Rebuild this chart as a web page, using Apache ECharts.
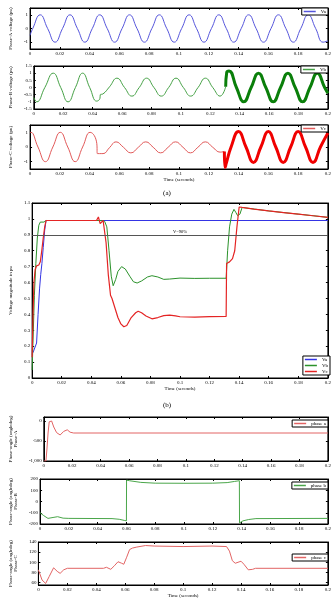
<!DOCTYPE html>
<html>
<head>
<meta charset="utf-8">
<script src="https://cdn.jsdelivr.net/npm/echarts@6/dist/echarts.min.js"></script>
<style>html,body{margin:0;padding:0;background:#fff}#main{width:334px;height:605px}</style>
</head>
<body>
<div id="main"></div>
<script>
// (a) phase voltages, [time, pu]
var va = [[0,-0.5],[0.0018,0],[0.0068,1],[0.0118,0],[0.0168,-1],[0.0218,0],[0.0268,1],[0.0318,0],[0.0368,-1],[0.0418,0],[0.0468,1],[0.0518,0],[0.0568,-1],[0.0618,0],[0.0668,1],[0.0718,0],[0.0768,-1],[0.0818,0],[0.0868,1],[0.0918,0],[0.0968,-1],[0.1018,0],[0.1068,1],[0.1118,0],[0.1168,-1],[0.1218,0],[0.1268,1],[0.1318,0],[0.1368,-1],[0.1418,0],[0.1468,1],[0.1518,0],[0.1568,-1],[0.1618,0],[0.1668,1],[0.1718,0],[0.1768,-1],[0.1818,0],[0.1868,1],[0.1918,0],[0.1968,-1],[0.2,-0.9]];
var vbLo = [[0,-0.7],[0.002,-1],[0.0075,0],[0.0132,1],[0.0183,0],[0.0233,-1],[0.0283,0],[0.0332,1],[0.038,0],[0.0428,-0.95],[0.045,-0.75],[0.0452,-0.5],[0.047,-0.45],[0.0515,0.05],[0.0565,0.65],[0.0617,0],[0.0667,-0.6],[0.0717,0],[0.0767,0.65],[0.0817,0],[0.0867,-0.6],[0.0917,0],[0.0967,0.65],[0.1017,0],[0.1067,-0.6],[0.1117,0],[0.1167,0.65],[0.1217,0],[0.1267,-0.6],[0.1305,0.05]];
var vbHi = [[0.1305,0.05],[0.1312,1.05],[0.1328,1.15],[0.1378,0],[0.1428,-1],[0.1478,0],[0.1528,1],[0.1578,0],[0.1628,-1],[0.1678,0],[0.1728,1],[0.1778,0],[0.1828,-1],[0.1878,0],[0.1928,1],[0.1978,0],[0.2,-0.4]];
var vcLo = [[0,0.95],[0.0005,1],[0.0053,0],[0.0103,-1],[0.0153,0],[0.0203,1],[0.0253,0],[0.0303,-1],[0.0353,0],[0.0403,1],[0.0448,0.25],[0.0452,-0.45],[0.049,-0.45],[0.0533,-0.05],[0.0577,0.35],[0.0627,-0.02],[0.0677,-0.4],[0.0727,-0.02],[0.0777,0.35],[0.0827,-0.02],[0.0877,-0.4],[0.0927,-0.02],[0.0977,0.35],[0.1027,-0.02],[0.1077,-0.4],[0.1127,-0.02],[0.1177,0.35],[0.1227,-0.02],[0.1277,-0.35],[0.1305,-0.3]];
var vcHi = [[0.1305,-0.3],[0.131,-1.4],[0.1318,-1.1],[0.135,0],[0.14,1.05],[0.145,0],[0.15,-1.05],[0.155,0],[0.16,1.05],[0.165,0],[0.17,-1.05],[0.175,0],[0.18,1.05],[0.185,0],[0.19,-1.05],[0.195,0],[0.2,0.95]];

// (b) voltage magnitude, [time, pu]
var vaMag = [[0,0.15],[0.001,0.17],[0.002,0.18],[0.003,0.22],[0.004,0.4],[0.005,0.56],[0.0058,0.65],[0.0066,0.72],[0.0075,0.82],[0.0085,0.93],[0.0094,0.99],[0.2,0.99]];
var vbMag = [[0,0.05],[0.0008,0.3],[0.0015,0.52],[0.0025,0.72],[0.0035,0.88],[0.0045,0.96],[0.0055,0.98],[0.008,0.98],[0.0094,0.99],[0.047,0.99],[0.049,0.985],[0.0505,0.95],[0.052,0.8],[0.0535,0.64],[0.0548,0.58],[0.0565,0.62],[0.058,0.67],[0.0605,0.7],[0.063,0.685],[0.066,0.64],[0.0685,0.605],[0.071,0.597],[0.074,0.61],[0.078,0.635],[0.081,0.643],[0.085,0.635],[0.089,0.62],[0.093,0.622],[0.1,0.628],[0.11,0.626],[0.12,0.627],[0.1312,0.627],[0.1322,0.8],[0.1335,0.95],[0.135,1.03],[0.1365,1.06],[0.1378,1.04],[0.139,1.02],[0.1405,1.03],[0.142,1.072],[0.15,1.062],[0.16,1.05],[0.17,1.04],[0.18,1.03],[0.19,1.02],[0.2,1.01]];
var vcMag = [[0,0.13],[0.0006,0.4],[0.0012,0.6],[0.002,0.68],[0.003,0.705],[0.0045,0.71],[0.0055,0.73],[0.0065,0.8],[0.0075,0.88],[0.0085,0.95],[0.0094,0.99],[0.0435,0.99],[0.0448,1.012],[0.0456,1.0],[0.046,0.97],[0.0465,0.96],[0.047,0.975],[0.048,0.99],[0.0485,0.98],[0.05,0.85],[0.0515,0.65],[0.053,0.52],[0.054,0.5],[0.0548,0.49],[0.056,0.44],[0.058,0.38],[0.06,0.34],[0.062,0.322],[0.064,0.33],[0.067,0.38],[0.07,0.41],[0.0717,0.42],[0.074,0.41],[0.077,0.39],[0.081,0.372],[0.085,0.38],[0.089,0.392],[0.093,0.395],[0.097,0.39],[0.1,0.385],[0.11,0.383],[0.12,0.386],[0.1312,0.387],[0.1315,0.72],[0.1335,0.73],[0.1355,0.75],[0.137,0.8],[0.1385,0.95],[0.14,1.075],[0.142,1.072],[0.15,1.062],[0.16,1.05],[0.17,1.04],[0.18,1.03],[0.19,1.02],[0.2,1.01]];
var vLimit = 0.9;

// (c) phase angles, [time, deg]
var angA = [[0,-1000],[0.0015,-1000],[0.0022,-700],[0.003,-300],[0.0038,-20],[0.0045,30],[0.0055,0],[0.007,-150],[0.009,-290],[0.0115,-350],[0.014,-260],[0.0165,-220],[0.0185,-280],[0.021,-300],[0.2,-300]];
var angB = [[0,-100],[0.0025,-125],[0.0055,-150],[0.009,-142],[0.0122,-135],[0.016,-148],[0.02,-150],[0.05,-152],[0.055,-158],[0.0585,-168],[0.06,-172],[0.0601,190],[0.062,185],[0.07,170],[0.08,163],[0.1,162],[0.12,163],[0.13,168],[0.135,178],[0.1385,185],[0.1386,-190],[0.141,-172],[0.145,-160],[0.15,-152],[0.2,-150]];
var angC = [[0,85],[0.0025,65],[0.005,58],[0.0075,72],[0.0105,89],[0.013,82],[0.015,78],[0.0175,85],[0.02,88],[0.045,88],[0.047,90],[0.05,86],[0.0525,93],[0.055,101],[0.0575,98],[0.059,96],[0.061,110],[0.063,125],[0.065,128],[0.068,130],[0.074,133],[0.08,132],[0.1,131],[0.12,132],[0.13,131],[0.132,122],[0.134,103],[0.136,98],[0.14,102],[0.142,96],[0.145,85],[0.148,86],[0.15,88],[0.2,88]];

var FONT = 'Liberation Serif';
var txt = {fontFamily: FONT, fontSize: 5, color: '#000'};

// grids: [left, top, height]
var grids = [[17,8,41],[17,66,43],[17,125,44],[16,203,175],[24,417,44],[24,479,45],[24,542,43]];

function xAxes(g, named) {
    var base = {type: 'value', gridIndex: g, min: 0, max: 0.2, interval: 0.02, splitLine: {show: false},
        axisLine: {onZero: false, lineStyle: {color: '#000', width: 1}},
        axisTick: {inside: true, length: 2, lineStyle: {color: '#000'}}};
    var bottom = Object.assign({}, base, {
        name: named ? 'Time (seconds)' : '', nameLocation: 'middle', nameGap: 8, nameTextStyle: txt,
        axisLabel: {fontFamily: FONT, fontSize: 5, color: '#000', margin: 2}
    });
    var top = Object.assign({}, base, {position: 'top', axisLabel: {show: false}});
    return [bottom, top];
}

function yAxes(g, name, min, max, ticks, gap) {
    var base = {type: 'value', gridIndex: g, min: min, max: max, splitLine: {show: false},
        axisLine: {show: true, onZero: false, lineStyle: {color: '#000', width: 1}},
        axisTick: {inside: true, length: 2, customValues: ticks, lineStyle: {color: '#000'}}};
    var left = Object.assign({}, base, {
        name: name, nameLocation: 'middle', nameRotate: 90, nameGap: gap, nameTextStyle: txt,
        axisLabel: {fontFamily: FONT, fontSize: 5, color: '#000', margin: 2, customValues: ticks}
    });
    var right = Object.assign({}, base, {position: 'right', axisLabel: {show: false}});
    return [left, right];
}

var xAxis = [], yAxis = [];
xAxis = xAxis.concat(xAxes(0,false), xAxes(1,false), xAxes(2,true), xAxes(3,true), xAxes(4,false), xAxes(5,false), xAxes(6,true));
yAxis = yAxis.concat(
    yAxes(0, 'Phase-A voltage (pu)', -1.5, 1.5, [-1,0,1], 9),
    yAxes(1, 'Phase-B voltage (pu)', -1.5, 1.5, [-1.5,-1,-0.5,0,0.5,1,1.5], 9),
    yAxes(2, 'Phase-C voltage (pu)', -1.5, 1.5, [-1,0,1], 9),
    yAxes(3, 'Voltage magnitude in pu', 0, 1.1, [0,0.1,0.2,0.3,0.4,0.5,0.6,0.7,0.8,0.9,1,1.1], 9),
    yAxes(4, 'Phase-angle (angledeg)\nPhase-A', -1000, 100, [-1000,-500,0], 12),
    yAxes(5, 'Phase-angle (angledeg)\nPhase-B', -200, 200, [-200,-100,0,100,200], 12),
    yAxes(6, 'Phase-angle (angledeg)\nPhase-C', 55, 140, [60,80,100,120,140], 12)
);

function line(name, g, data, color, width, smooth) {
    return {name: name, type: 'line', xAxisIndex: 2 * g, yAxisIndex: 2 * g, data: data,
        showSymbol: false, smooth: smooth ? 0.5 : false,
        lineStyle: {color: color, width: width}, itemStyle: {color: color}};
}

var legendBase = {orient: 'vertical', right: 6, itemWidth: 12, itemHeight: 1.5, itemGap: 1, icon: 'rect',
    borderColor: '#000', borderWidth: 1, backgroundColor: '#fff', padding: [1, 2],
    textStyle: {fontFamily: FONT, fontSize: 5, color: '#000', padding: [0, 0, 0, 0]},
    formatter: function (n) { return n.replace('(b)', ''); }};

var option = {
    animation: false,
    backgroundColor: '#fff',
    title: [
        {text: '(a)', left: 'center', top: 185, textStyle: {fontFamily: FONT, fontSize: 7, fontWeight: 'normal', color: '#000'}},
        {text: '(b)', left: 'center', top: 397, textStyle: {fontFamily: FONT, fontSize: 7, fontWeight: 'normal', color: '#000'}}
    ],
    grid: grids.map(function (g) {
        return {left: g[0], right: 5, top: g[1], height: g[2], show: true, borderColor: '#000', borderWidth: 1};
    }),
    legend: [
        Object.assign({}, legendBase, {top: 8, data: ['Va']}),
        Object.assign({}, legendBase, {top: 66, data: ['Vb']}),
        Object.assign({}, legendBase, {top: 125, data: ['Vc']}),
        Object.assign({}, legendBase, {top: 356, right: 4, data: ['Va(b)', 'Vb(b)', 'Vc(b)']}),
        Object.assign({}, legendBase, {top: 420, data: ['phase a']}),
        Object.assign({}, legendBase, {top: 482, data: ['phase b']}),
        Object.assign({}, legendBase, {top: 554, data: ['phase c']})
    ],
    xAxis: xAxis,
    yAxis: yAxis,
    series: [
        line('Va', 0, va, '#5656dc', 1, true),
        line('Vb', 1, vbLo, '#45a045', 1, true),
        line('VbHi', 1, vbHi, '#0a7f0a', 3, true),
        line('Vc', 2, vcLo, '#e25a5a', 1, true),
        line('VcHi', 2, vcHi, '#f00000', 3, true),
        line('Va(b)', 3, vaMag, '#3434e4', 1, false),
        line('Vb(b)', 3, vbMag, '#2b922b', 1, false),
        line('Vc(b)', 3, vcMag, '#e42424', 1.2, false),
        {name: 'limit', type: 'line', xAxisIndex: 6, yAxisIndex: 6, data: [], markLine: {
            silent: true, symbol: 'none', lineStyle: {color: '#555', width: 1, type: 'solid'},
            label: {formatter: 'V=90%', position: 'middle', fontFamily: FONT, fontSize: 4.5, color: '#000', distance: 1},
            data: [{yAxis: vLimit}]}},
        line('phase a', 4, angA, '#e26464', 1, false),
        line('phase b', 5, angB, '#4aa64a', 1, false),
        line('phase c', 6, angC, '#e26464', 1, false)
    ]
};

var chart = echarts.init(document.getElementById('main'));
chart.setOption(option);
</script>
</body>
</html>
